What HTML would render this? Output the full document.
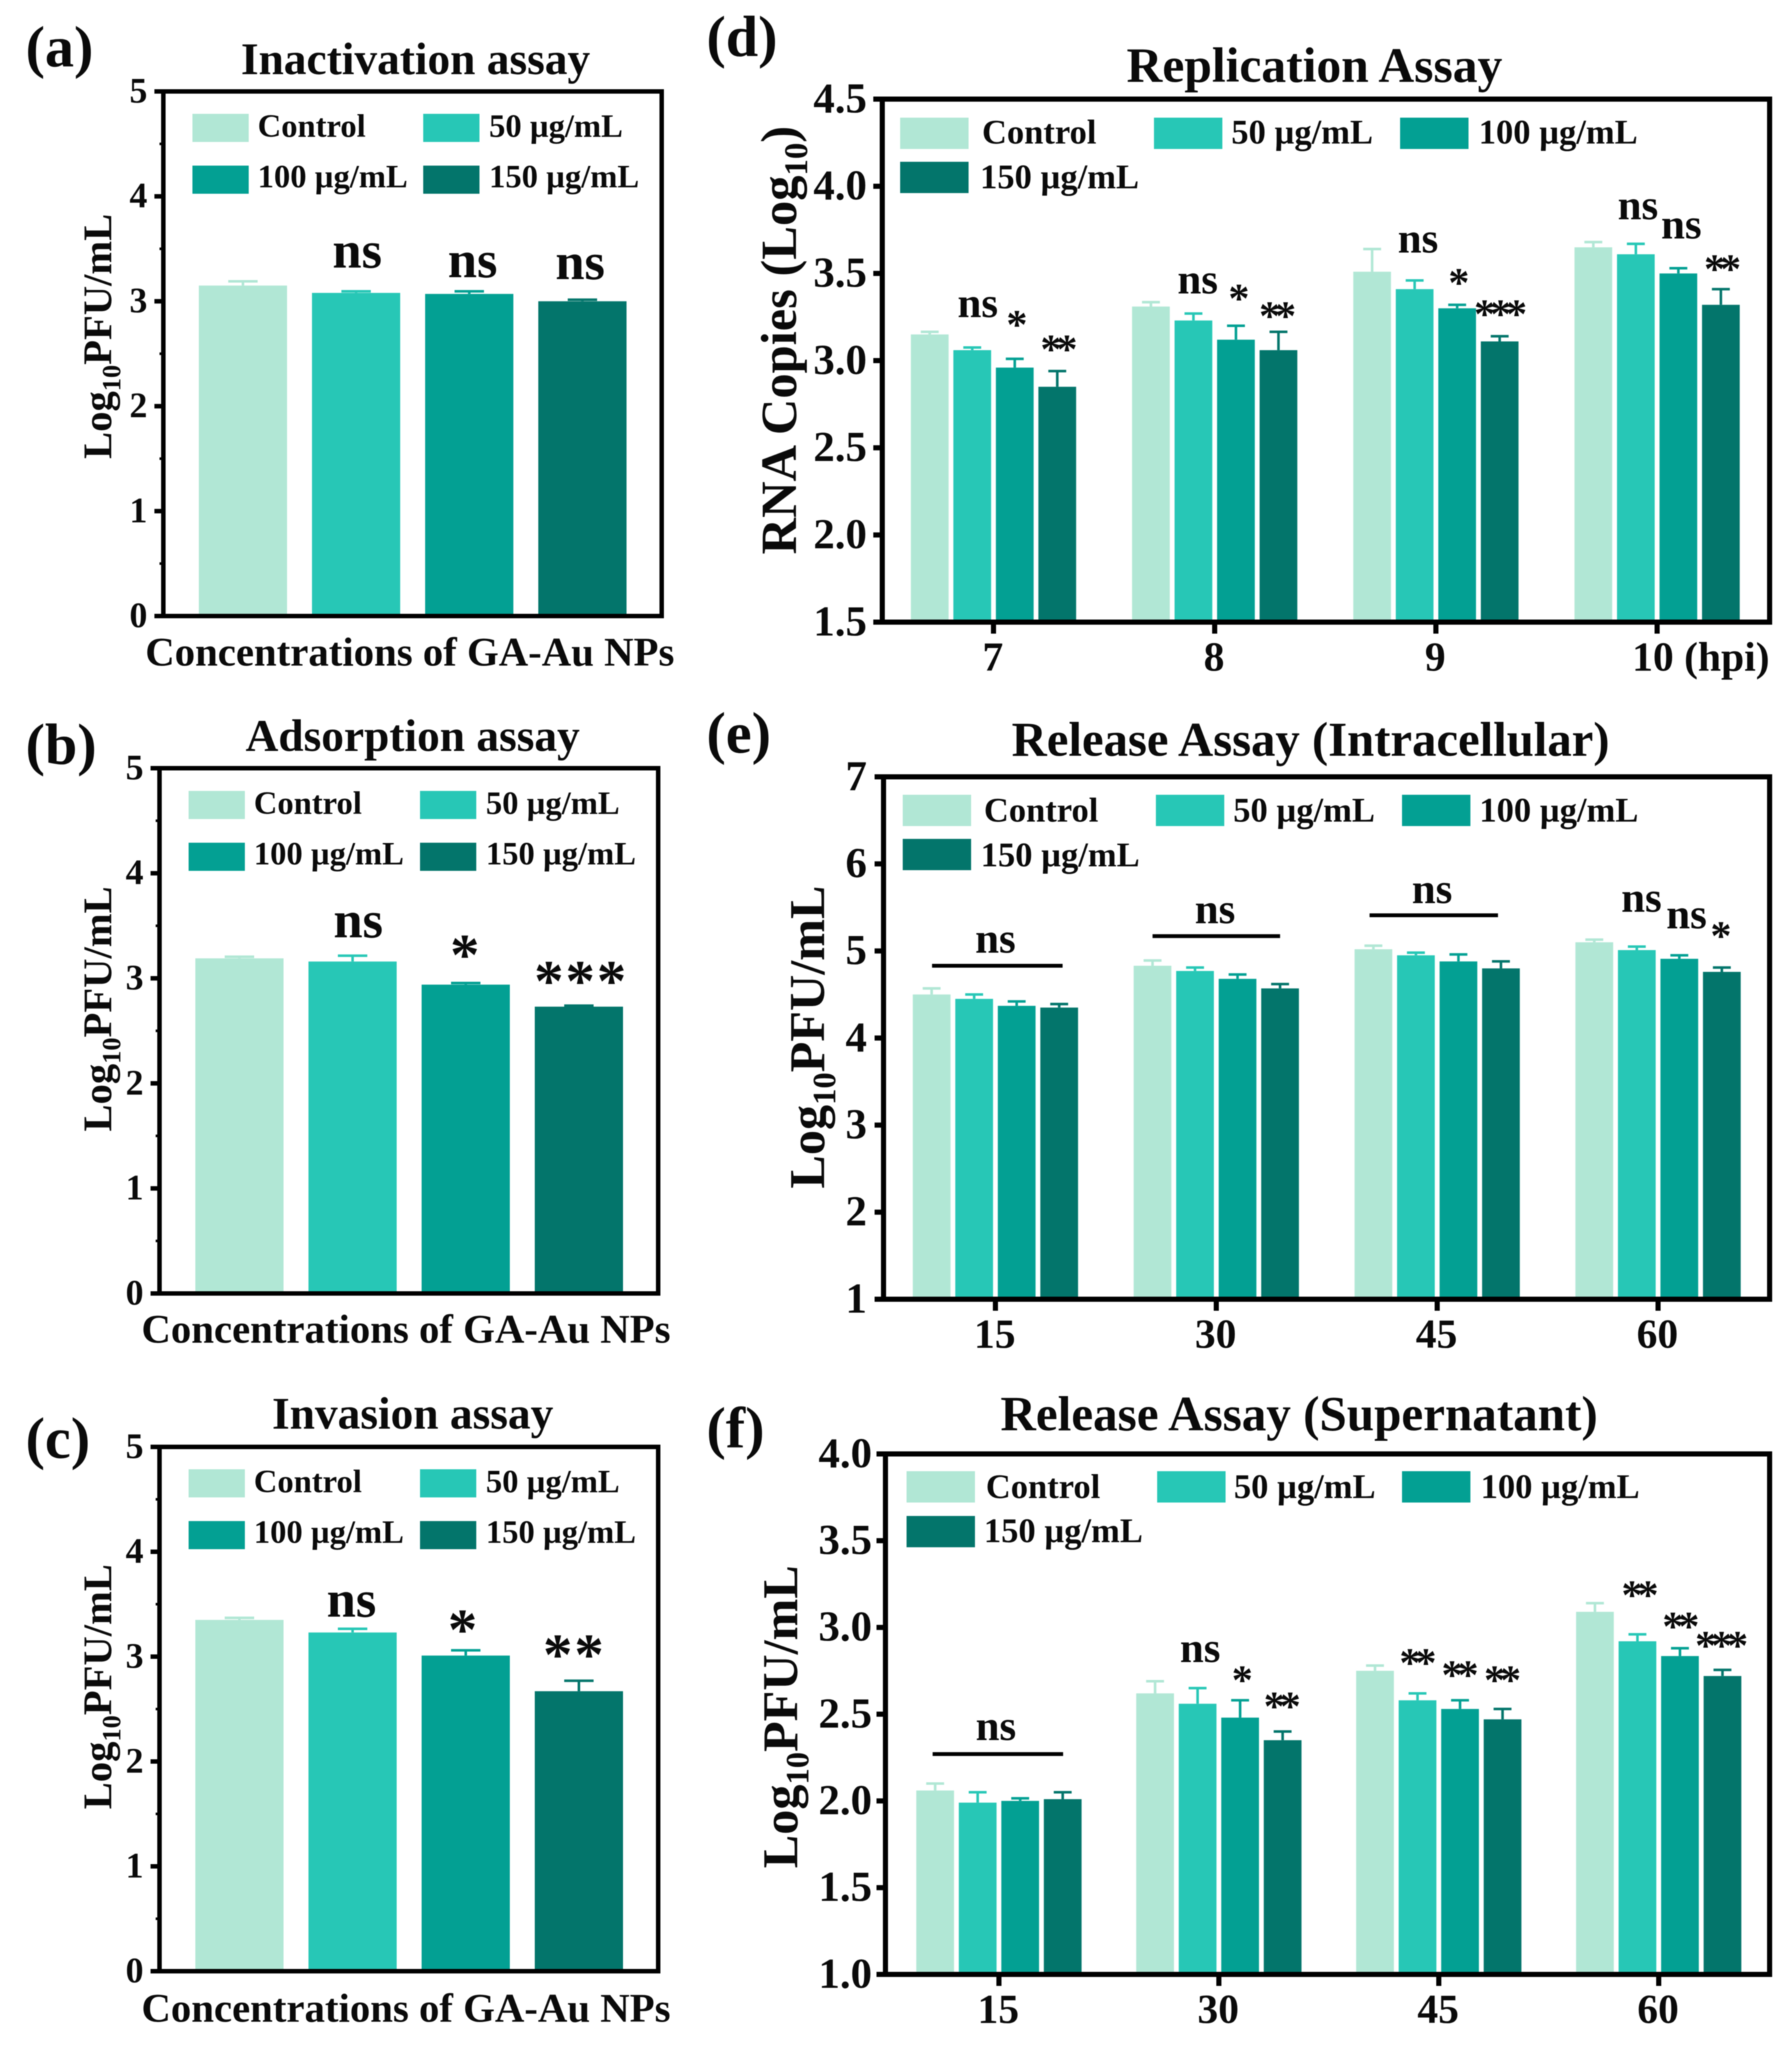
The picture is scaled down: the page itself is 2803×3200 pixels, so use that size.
<!DOCTYPE html>
<html lang="en">
<head>
<meta charset="utf-8">
<title>GA-Au NPs assay bar charts</title>
<style>
html,body{margin:0;padding:0;background:#fff;}
svg{display:block;filter:blur(0.7px);}
text{font-family:"Liberation Serif",serif;font-weight:bold;fill:#0a0a0a;}
</style>
</head>
<body>
<svg id="figure" xmlns="http://www.w3.org/2000/svg" width="2803" height="3200" viewBox="0 0 2803 3200"></svg>
<script>
const seriesNames = ['Control', '50 µg/mL', '100 µg/mL', '150 µg/mL'];
const seriesColors = ['#b1e7d5', '#27c7b6', '#03a093', '#03756b'];

/* Panel (a) Inactivation */
const panelAValues = [3.15, 3.08, 3.07, 3.0];
const panelAErrors = [0.04, 0.015, 0.025, 0.015];
const panelATicks = ['0', '1', '2', '3', '4', '5'];
const panelAMarks = [['ns', 0, 1.01, 3.32], ['ns', 0, 2.03, 3.23], ['ns', 0, 2.98, 3.21]];

/* Panel (b) Adsorption */
const panelBValues = [3.19, 3.16, 2.94, 2.73];
const panelBErrors = [0.015, 0.055, 0.015, 0.01];
const panelBTicks = ['0', '1', '2', '3', '4', '5'];
const panelBMarks = [['ns', 0, 1.05, 3.39], ['*', 0, 2.0, 3.30], ['***', 0, 3.02, 3.05]];

/* Panel (c) Invasion */
const panelCValues = [3.35, 3.23, 3.01, 2.67];
const panelCErrors = [0.02, 0.035, 0.05, 0.1];
const panelCTicks = ['0', '1', '2', '3', '4', '5'];
const panelCMarks = [['ns', 0, 0.99, 3.38], ['*', 0, 1.98, 3.335], ['**', 0, 2.96, 3.095]];

/* Panel (d) Replication */
const panelDCategories = ['7', '8', '9', '10 (hpi)'];
const panelDTicks = ['1.5', '2.0', '2.5', '3.0', '3.5', '4.0', '4.5'];
const panelDControl = [3.15, 3.31, 3.51, 3.65];
const panelD50 = [3.06, 3.23, 3.41, 3.61];
const panelD100 = [2.96, 3.12, 3.30, 3.50];
const panelD150 = [2.85, 3.06, 3.11, 3.32];
const panelDControlErr = [0.015, 0.025, 0.13, 0.03];
const panelD50Err = [0.015, 0.04, 0.05, 0.06];
const panelD100Err = [0.05, 0.08, 0.02, 0.03];
const panelD150Err = [0.09, 0.105, 0.03, 0.09];
const panelDMarks = [
  ['ns', 0, 1.13, 3.25], ['*', 0, 1.99, 3.24], ['**', 0, 2.98, 3.10],
  ['ns', 1, 1.10, 3.385], ['*', 1, 2.01, 3.39], ['**', 1, 2.92, 3.29],
  ['ns', 2, 1.08, 3.62], ['*', 2, 1.98, 3.48], ['***', 2, 2.96, 3.30],
  ['ns', 3, 1.05, 3.81], ['ns', 3, 2.07, 3.70], ['**', 3, 2.98, 3.56]
];

/* Panel (e) Release, intracellular */
const panelECategories = ['15', '30', '45', '60'];
const panelETicks = ['1', '2', '3', '4', '5', '6', '7'];
const panelEControl = [4.50, 4.83, 5.02, 5.10];
const panelE50 = [4.45, 4.77, 4.95, 5.01];
const panelE100 = [4.37, 4.68, 4.88, 4.91];
const panelE150 = [4.35, 4.57, 4.80, 4.76];
const panelEControlErr = [0.07, 0.06, 0.04, 0.03];
const panelE50Err = [0.05, 0.04, 0.03, 0.04];
const panelE100Err = [0.05, 0.05, 0.08, 0.04];
const panelE150Err = [0.04, 0.05, 0.08, 0.05];
const panelEMarks = [
  ['ns', 0, 1.5, 4.98], ['ns', 1, 1.47, 5.32], ['ns', 2, 1.38, 5.55],
  ['ns', 3, 1.11, 5.45], ['ns', 3, 2.17, 5.26], ['*', 3, 2.92, 5.24]
];
const panelEBrackets = [[0, 0.01, 3.08, 4.83], [1, 0.0, 3.0, 5.17], [2, -0.09, 2.93, 5.41]];

/* Panel (f) Release, supernatant */
const panelFCategories = ['15', '30', '45', '60'];
const panelFTicks = ['1.0', '1.5', '2.0', '2.5', '3.0', '3.5', '4.0'];
const panelFControl = [2.06, 2.62, 2.75, 3.09];
const panelF50 = [1.99, 2.56, 2.58, 2.92];
const panelF100 = [2.0, 2.48, 2.53, 2.835];
const panelF150 = [2.01, 2.35, 2.47, 2.72];
const panelFControlErr = [0.04, 0.07, 0.03, 0.05];
const panelF50Err = [0.06, 0.09, 0.04, 0.04];
const panelF100Err = [0.015, 0.10, 0.05, 0.045];
const panelF150Err = [0.04, 0.05, 0.06, 0.035];
const panelFMarks = [
  ['ns', 0, 1.43, 2.35],
  ['ns', 1, 1.06, 2.80], ['*', 1, 1.99, 2.73], ['**', 1, 2.93, 2.58],
  ['**', 2, 0.95, 2.83], ['**', 2, 1.94, 2.76], ['**', 2, 2.94, 2.73],
  ['**', 3, 1.0, 3.22], ['**', 3, 1.96, 3.04], ['***', 3, 2.92, 2.93]
];
const panelFBrackets = [[0, -0.06, 3.01, 2.27]];

const NS = 'http://www.w3.org/2000/svg';
const root = document.getElementById('figure');

function make(tag, attrs, parent, content) {
  const node = document.createElementNS(NS, tag);
  for (const key in attrs) node.setAttribute(key, attrs[key]);
  if (content !== undefined) node.textContent = content;
  parent.appendChild(node);
  return node;
}

function slug(s) {
  return String(s).toLowerCase().replace(/µ/g, 'u').replace(/[^a-z0-9]+/g, '-').replace(/^-|-$/g, '');
}

function drawPanel(cfg, categories, values, errors, ticks, marks, brackets) {
  let el;
  const g = make('g', {}, root);
  
  

  const yScale = function (v) {
    return cfg.bottom - (v - cfg.min) / (cfg.max - cfg.min) * (cfg.bottom - cfg.top);
  };
  const groupCenter = function (i) {
    return cfg.firstCenter + i * cfg.groupStep;
  };
  const barCenter = function (i, pos) {
    return groupCenter(i) + (pos - 1.5) * cfg.pitch;
  };

  /* panel letter and title */
  el = make('text', { x: cfg.letterX, y: cfg.letterY, 'font-size': 91 }, g, '(' + cfg.id + ')');
  
  
  el = make('text', { x: cfg.titleX, y: cfg.titleY, 'font-size': cfg.titleSize, 'text-anchor': 'middle' }, g, cfg.title);
  
  

  /* bars and error bars */
  categories.forEach(function (cat, c) {
    seriesNames.forEach(function (name, s) {
      const v = values[s][c];
      const cx = barCenter(c, s);
      const top = yScale(v + errors[s][c]);
      el = make('line', { x1: cx, x2: cx, y1: yScale(v), y2: top, stroke: seriesColors[s], 'stroke-width': 4 }, g);
      
      
      el = make('line', { x1: cx - cfg.cap / 2, x2: cx + cfg.cap / 2, y1: top, y2: top, stroke: seriesColors[s], 'stroke-width': 4 }, g);
      
      
      el = make('rect', { x: cx - cfg.barWidth / 2, y: yScale(v), width: cfg.barWidth, height: cfg.bottom - yScale(v), fill: seriesColors[s] }, g);
      
      
    });
  });

  /* frame */
  el = make('rect', { x: cfg.left, y: cfg.top, width: cfg.right - cfg.left, height: cfg.bottom - cfg.top, fill: 'none', stroke: '#000', 'stroke-width': cfg.lw }, g);
  
  

  /* y ticks */
  ticks.forEach(function (label, i) {
    const v = parseFloat(label);
    const y = yScale(v);
    el = make('line', { x1: cfg.left - cfg.tickLen, x2: cfg.left, y1: y, y2: y, stroke: '#000', 'stroke-width': cfg.lw }, g);
    
    
    el = make('text', { x: cfg.left - cfg.tickGap, y: y + cfg.tickSize * 0.31, 'font-size': cfg.tickSize, 'text-anchor': 'end' }, g, label);
    
    
    if (cfg.minor && i < ticks.length - 1) {
      const my = yScale((v + parseFloat(ticks[i + 1])) / 2);
      el = make('line', { x1: cfg.left - 6, x2: cfg.left, y1: my, y2: my, stroke: '#000', 'stroke-width': 4 }, g);
      
      
    }
  });

  /* x ticks and labels */
  if (cfg.xTicks) {
    categories.forEach(function (cat, c) {
      const x = groupCenter(c);
      el = make('line', { x1: x, x2: x, y1: cfg.bottom, y2: cfg.bottom + cfg.tickLen + 4, stroke: '#000', 'stroke-width': cfg.lw }, g);
      
      
      const wide = cat.length > 3;
      el = make('text', { x: wide ? x - 39 : x - 1, y: cfg.bottom + 76, 'font-size': 65, 'text-anchor': wide ? 'start' : 'middle' }, g, cat);
      
      
    });
  }
  if (cfg.xTitle) {
    el = make('text', { x: cfg.xTitleX, y: cfg.xTitleY, 'font-size': 63.8, 'text-anchor': 'middle' }, g, cfg.xTitle);
    
    
  }

  /* y axis title */
  el = make('text', { transform: 'translate(' + cfg.yTitleX + ',' + cfg.yTitleY + ') rotate(-90)', 'font-size': cfg.yTitleSize, 'text-anchor': 'middle' }, g);
  
  
  make('tspan', {}, el, cfg.yTitleParts[0]);
  make('tspan', { 'font-size': cfg.yTitleSize * 0.65, dy: cfg.yTitleSize * 0.22 }, el, '10');
  make('tspan', { dy: -cfg.yTitleSize * 0.22 }, el, cfg.yTitleParts[1]);

  /* legend */
  seriesNames.forEach(function (name, s) {
    const pos = cfg.legend[s];
    el = make('rect', { x: pos[0], y: pos[1], width: cfg.swatchW, height: cfg.swatchH, fill: seriesColors[s] }, g);
    
    
    el = make('text', { x: pos[2], y: pos[3], 'font-size': cfg.legendSize }, g, name);
    
    
  });

  /* significance brackets */
  brackets.forEach(function (b) {
    const y = yScale(b[3]);
    el = make('line', { x1: barCenter(b[0], b[1]), x2: barCenter(b[0], b[2]), y1: y, y2: y, stroke: '#000', 'stroke-width': 6 }, g);
    
    
  });

  /* significance labels */
  marks.forEach(function (m) {
    const x = barCenter(m[1], m[2]);
    const y = yScale(m[3]);
    const star = m[0].indexOf('*') >= 0;
    const size = star ? cfg.starSize : cfg.nsSize;
    el = make('text', {
      x: x,
      y: star ? y + size * 0.47 : y,
      'font-size': size,
      'text-anchor': 'middle',
      'letter-spacing': star ? cfg.starSpacing : 0
    }, g, m[0]);
    
    
  });
}

function single(list) {
  return list.map(function (v) { return [v]; });
}

const narrowCommon = {
  min: 0, max: 5, lw: 7, tickLen: 14, tickGap: 25, tickSize: 56, minor: true, xTicks: false,
  groupStep: 0, pitch: 177, barWidth: 138, cap: 46, titleSize: 71,
  xTitle: 'Concentrations of GA-Au NPs', yTitleSize: 63.5, yTitleParts: ['Log', 'PFU/mL'],
  swatchW: 88, swatchH: 44, legendSize: 51, nsSize: 82, starSize: 92, starSpacing: 3
};
const wideCommon = {
  lw: 8, tickLen: 14, tickGap: 24, tickSize: 67, minor: false, xTicks: true,
  groupStep: 346, pitch: 66.5, barWidth: 59, cap: 28, titleSize: 77.5,
  yTitleSize: 79, swatchW: 107, swatchH: 49, legendSize: 54, nsSize: 67, starSize: 66, starSpacing: -8
};

drawPanel(Object.assign({}, narrowCommon, {
  id: 'a', title: 'Inactivation assay', letterX: 40, letterY: 104, titleX: 650, titleY: 116,
  left: 255.5, right: 1035, top: 143, bottom: 963.5, firstCenter: 645.5,
  xTitleX: 641, xTitleY: 1041, yTitleX: 174, yTitleY: 526,
  legend: [[301, 178, 403, 214], [662, 178, 765, 214], [301, 259, 403, 293], [662, 259, 765, 293]]
}), ['all'], single(panelAValues), single(panelAErrors), panelATicks, panelAMarks, []);

drawPanel(Object.assign({}, narrowCommon, {
  id: 'b', title: 'Adsorption assay', letterX: 40, letterY: 1195, titleX: 645.5, titleY: 1174.5,
  left: 249.5, right: 1029.5, top: 1201.5, bottom: 2023, firstCenter: 640,
  xTitleX: 635, xTitleY: 2100, yTitleX: 174, yTitleY: 1578,
  legend: [[295, 1237, 397, 1273], [657, 1237, 760, 1273], [295, 1318, 397, 1352], [657, 1318, 760, 1352]]
}), ['all'], single(panelBValues), single(panelBErrors), panelBTicks, panelBMarks, []);

drawPanel(Object.assign({}, narrowCommon, {
  id: 'c', title: 'Invasion assay', letterX: 40, letterY: 2280, titleX: 645.5, titleY: 2234.5,
  left: 249.5, right: 1029.5, top: 2263, bottom: 3083, firstCenter: 640,
  xTitleX: 635, xTitleY: 3162, yTitleX: 174, yTitleY: 2638,
  legend: [[295, 2298, 397, 2334], [657, 2298, 760, 2334], [295, 2379, 397, 2413], [657, 2379, 760, 2413]]
}), ['all'], single(panelCValues), single(panelCErrors), panelCTicks, panelCMarks, []);

drawPanel(Object.assign({}, wideCommon, {
  id: 'd', title: 'Replication Assay', letterX: 1105, letterY: 88, titleX: 2056, titleY: 128,
  left: 1380, right: 2768, top: 155, bottom: 973, min: 1.5, max: 4.5, firstCenter: 1554,
  yTitleX: 1245, yTitleY: 532, yTitleParts: ['RNA Copies (Log', ')'],
  legend: [[1408, 184, 1536, 224.5], [1805, 184, 1926, 224.5], [2190, 184, 2313, 224.5], [1408, 253, 1533, 294.5]]
}), panelDCategories,
  [panelDControl, panelD50, panelD100, panelD150],
  [panelDControlErr, panelD50Err, panelD100Err, panelD150Err],
  panelDTicks, panelDMarks, []);

drawPanel(Object.assign({}, wideCommon, {
  id: 'e', title: 'Release Assay (Intracellular)', letterX: 1105, letterY: 1177, titleX: 2050, titleY: 1182, titleSize: 76.2,
  left: 1382, right: 2768, top: 1215, bottom: 2032, min: 1, max: 7, firstCenter: 1557, groupStep: 345.5,
  tickGap: 26, yTitleSize: 78.5, yTitleX: 1289, yTitleY: 1622, yTitleParts: ['Log', 'PFU/mL'],
  legend: [[1412, 1243, 1539, 1285], [1808, 1243, 1929, 1285], [2193, 1243, 2314, 1285], [1412, 1312, 1534, 1355]]
}), panelECategories,
  [panelEControl, panelE50, panelE100, panelE150],
  [panelEControlErr, panelE50Err, panelE100Err, panelE150Err],
  panelETicks, panelEMarks, panelEBrackets);

drawPanel(Object.assign({}, wideCommon, {
  id: 'f', title: 'Release Assay (Supernatant)', letterX: 1105, letterY: 2264, titleX: 2032, titleY: 2237, titleSize: 76.8,
  left: 1385, right: 2768, top: 2274, bottom: 3088, min: 1, max: 4, firstCenter: 1562.5, groupStep: 344,
  tickGap: 21, yTitleSize: 78.5, yTitleX: 1247, yTitleY: 2685, yTitleParts: ['Log', 'PFU/mL'],
  legend: [[1418, 2301, 1542, 2343], [1810, 2301, 1930, 2343], [2193, 2301, 2316, 2343], [1418, 2371, 1539, 2412]]
}), panelFCategories,
  [panelFControl, panelF50, panelF100, panelF150],
  [panelFControlErr, panelF50Err, panelF100Err, panelF150Err],
  panelFTicks, panelFMarks, panelFBrackets);
</script>
</body>
</html>
